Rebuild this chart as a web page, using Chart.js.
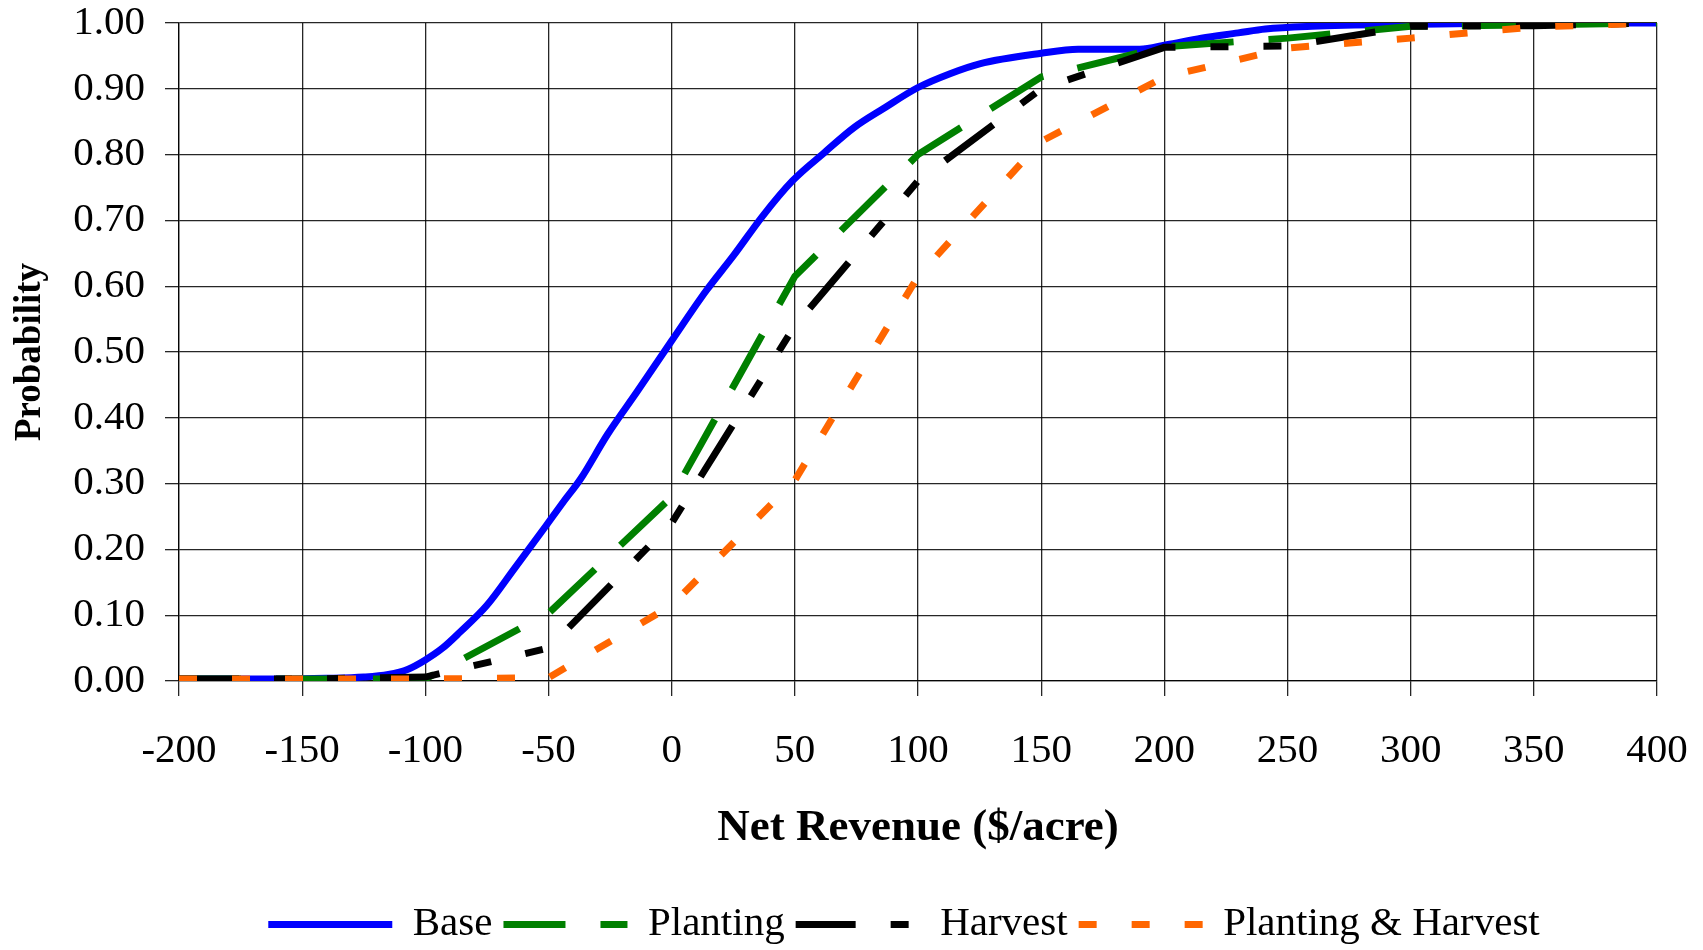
<!DOCTYPE html>
<html>
<head>
<meta charset="utf-8">
<script src="https://cdn.jsdelivr.net/npm/chart.js@4.4.0/dist/chart.umd.min.js"></script>
<style>
html,body{margin:0;padding:0;background:#ffffff;overflow:hidden}
canvas{display:block}
</style>
</head>
<body>
<canvas id="c" width="1703" height="950"></canvas>
<script>
// ---- data ----
const seriesNames = ['Base', 'Planting', 'Harvest', 'Planting & Harvest'];

const baseX = [-200, -180, -160, -140, -125, -115, -107, -100, -93, -86, -75, -64, -51, -44, -37, -26, -14, 0, 14, 25, 37, 49, 62, 74, 86, 100, 113, 125, 150, 165, 190, 201, 215, 230, 241, 260, 300, 350, 400];
const baseY = [0.003, 0.003, 0.003, 0.004, 0.006, 0.010, 0.018, 0.032, 0.050, 0.074, 0.115, 0.170, 0.236, 0.272, 0.307, 0.375, 0.440, 0.517, 0.593, 0.646, 0.707, 0.760, 0.803, 0.841, 0.870, 0.902, 0.923, 0.938, 0.954, 0.960, 0.960, 0.967, 0.977, 0.985, 0.991, 0.995, 0.998, 1.000, 1.000];

const stepX = [-200, -150, -100, -50, 0, 50, 100, 150, 200, 250, 300, 350, 400];
const plantingY = [0.003, 0.003, 0.003, 0.103, 0.280, 0.615, 0.800, 0.918, 0.964, 0.977, 0.995, 0.997, 1.000];
const harvestY  = [0.003, 0.003, 0.006, 0.050, 0.240, 0.540, 0.760, 0.900, 0.963, 0.965, 0.995, 0.996, 1.000];
const bothY     = [0.003, 0.003, 0.003, 0.005, 0.115, 0.305, 0.615, 0.820, 0.918, 0.962, 0.977, 0.994, 1.000];

const xMin = -200, xMax = 400, xStep = 50;
const yMin = 0, yMax = 1, yStep = 0.1;
const xTitle = 'Net Revenue ($/acre)';
const yTitle = 'Probability';

// ---- styling ----
const FONT = "'Liberation Serif', 'Times New Roman', serif";
const colors = ['#0000FF', '#008000', '#000000', '#FF6600'];
const dashes = [[], [62, 35], [60, 35, 18, 35, 18, 35], [18, 35]];
const legendDashOffsets = [0, 0, 0, 0];
const LINE_W = 7;
const gridColor = 'rgba(0,0,0,0.85)';

const pairs = (xs, ys) => xs.map((x, i) => ({x: x, y: ys[i]}));

const datasets = [
  {label: seriesNames[0], data: pairs(baseX, baseY), order: 4, cubicInterpolationMode: 'monotone'},
  {label: seriesNames[1], data: pairs(stepX, plantingY), order: 3},
  {label: seriesNames[2], data: pairs(stepX, harvestY), order: 2},
  {label: seriesNames[3], data: pairs(stepX, bothY), order: 1}
].map((d, i) => Object.assign({
  borderColor: colors[i],
  backgroundColor: colors[i],
  borderWidth: LINE_W,
  borderDash: dashes[i],
  borderCapStyle: 'butt',
  pointRadius: 0,
  pointHoverRadius: 0,
  pointStyle: 'line',
  tension: 0,
  fill: false
}, d));

const legendPlace = {
  id: 'legendPlace',
  afterLayout(chart) {
    const lg = chart.legend;
    const ca = chart.chartArea;
    const target = (ca.left + ca.right) / 2 - 14;
    lg.left = 2 * target - lg.right;
    lg.top += 5;
    lg.bottom += 5;
  }
};

new Chart(document.getElementById('c'), {
  type: 'line',
  data: {datasets: datasets},
  plugins: [legendPlace],
  options: {
    responsive: false,
    animation: false,
    devicePixelRatio: 1,
    layout: {padding: {top: 23, right: 46, bottom: 0, left: 0}},
    plugins: {
      tooltip: {enabled: false},
      legend: {
        display: true,
        position: 'bottom',
        align: 'center',
        labels: {
          usePointStyle: true,
          pointStyle: 'line',
          pointStyleWidth: 124,
          boxWidth: 124,
          padding: 11,
          color: '#000',
          font: {family: FONT, size: 41, lineHeight: 1.2},
          sort: (a, b) => a.datasetIndex - b.datasetIndex,
          generateLabels(chart) {
            const items = Chart.defaults.plugins.legend.labels.generateLabels(chart);
            items.forEach(it => {
              const i = it.datasetIndex;
              it.lineDash = dashes[i];
              it.lineDashOffset = legendDashOffsets[i];
              it.lineWidth = LINE_W;
              it.strokeStyle = colors[i];
              it.fillStyle = colors[i];
              it.lineCap = 'butt';
            });
            return items;
          }
        }
      }
    },
    scales: {
      x: {
        type: 'linear',
        min: xMin, max: xMax,
        afterFit(scale) { scale.height = 207; scale.paddingLeft = 0; scale.paddingRight = 0; },
        ticks: {
          stepSize: xStep,
          color: '#000',
          padding: 31,
          maxRotation: 0,
          autoSkip: false,
          font: {family: FONT, size: 41, lineHeight: 1.2},
          callback: v => String(v)
        },
        grid: {color: gridColor, lineWidth: 1.3, tickLength: 15, drawTicks: true, tickColor: gridColor},
        border: {display: true, color: gridColor, width: 1.3},
        title: {
          display: true,
          text: xTitle,
          color: '#000',
          font: {family: FONT, size: 45, weight: 'bold', lineHeight: 1.2},
          padding: {top: 0, bottom: 33}
        }
      },
      y: {
        type: 'linear',
        min: yMin, max: yMax,
        afterFit(scale) { scale.width = 179; scale.paddingTop = 0; scale.paddingBottom = 0; },
        ticks: {
          stepSize: yStep,
          color: '#000',
          padding: 20,
          font: {family: FONT, size: 41, lineHeight: 1.0},
          callback: v => Number(v).toFixed(2)
        },
        grid: {color: gridColor, lineWidth: 1.3, tickLength: 14, drawTicks: true, tickColor: gridColor},
        border: {display: true, color: gridColor, width: 1.3},
        title: {
          display: true,
          text: yTitle,
          color: '#000',
          font: {family: FONT, size: 37, weight: 'bold', lineHeight: 1.2},
          padding: {top: 8, bottom: 0}
        }
      }
    }
  }
});
</script>
</body>
</html>
